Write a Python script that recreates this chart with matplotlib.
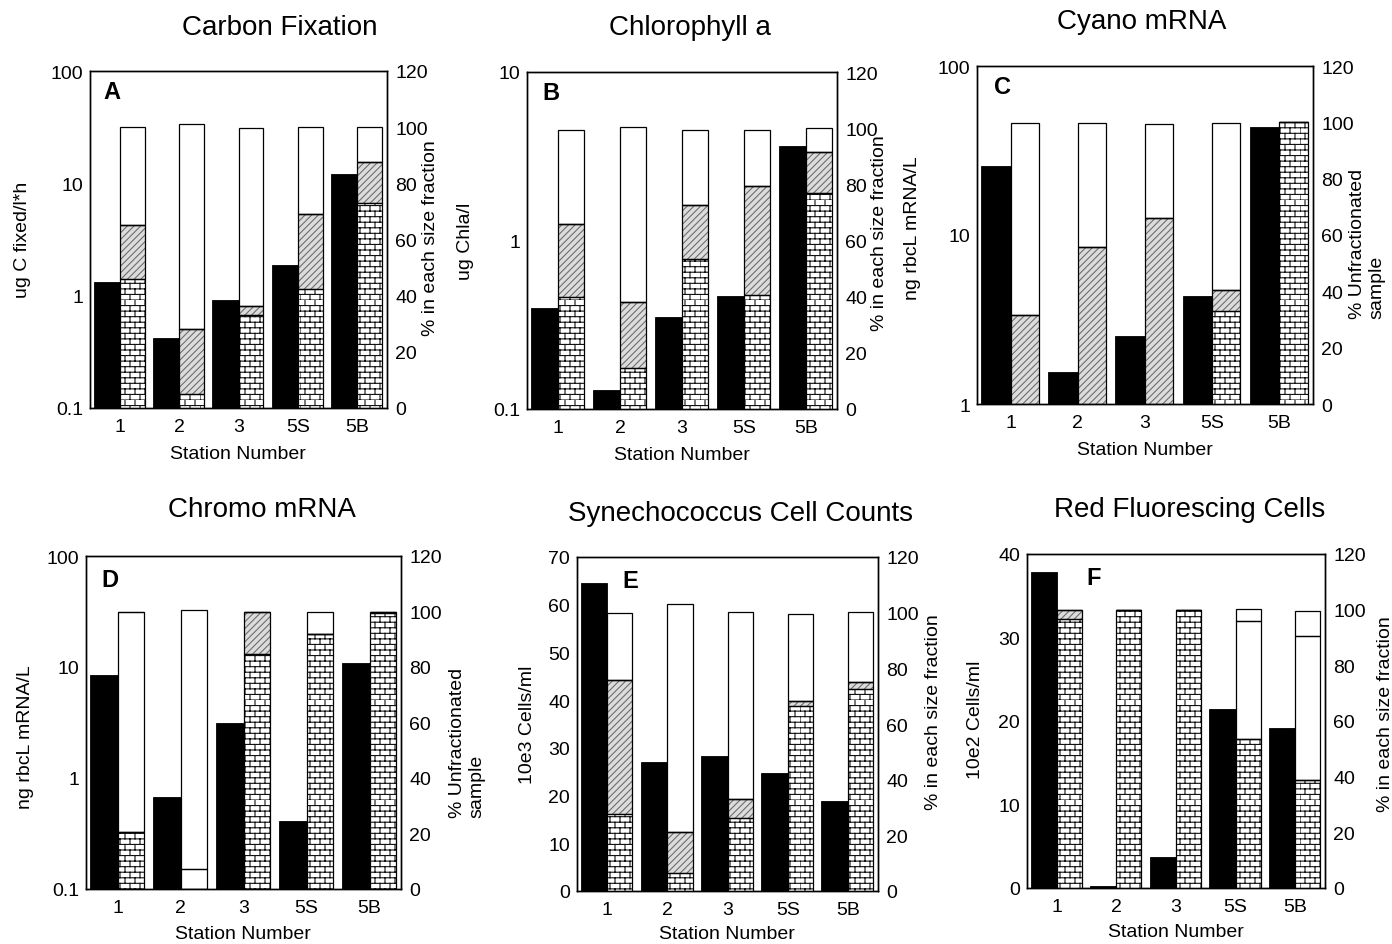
import warnings
import numpy as np
import matplotlib
matplotlib.use('Agg')
import matplotlib.pyplot as plt
import matplotlib.hatch as mhatch
from matplotlib.path import Path
from matplotlib.ticker import NullLocator

warnings.filterwarnings('ignore')

# ---------------- data ----------------
stations = ['1', '2', '3', '5S', '5B']

# A  Carbon Fixation (ug C fixed/l*h) and % in each size fraction
carbon_total = [1.31, 0.42, 0.92, 1.87, 12.2]
carbon_brick = [46, 5, 33, 42.5, 73]
carbon_hatch = [19, 23, 3.3, 26.5, 14.5]
carbon_light = [0, 0, 0, 0, 0]
carbon_white = [35, 73, 63.5, 31, 12.5]

# B  Chlorophyll a (ug Chla/l)
chl_total = [0.40, 0.13, 0.35, 0.47, 3.64]
chl_brick = [40, 14.5, 53.5, 40.5, 77]
chl_hatch = [26, 23.5, 19, 39, 14.5]
chl_light = [0, 0, 0, 0, 0]
chl_white = [33.5, 62.5, 27, 20, 8.5]

# C  Cyano mRNA (ng rbcL mRNA/L)
cyano_total = [25.7, 1.54, 2.52, 4.34, 43.7]
cyano_brick = [0, 0, 0, 33, 100]
cyano_hatch = [31.7, 55.6, 66, 7.4, 0]
cyano_light = [0, 0, 0, 0, 0]
cyano_white = [68, 44, 33.5, 59.5, 0]

# D  Chromo mRNA (ng rbcL mRNA/L)
chromo_total = [8.43, 0.67, 3.16, 0.41, 10.96]
chromo_brick = [20.4, 0, 84.6, 91.8, 99.3]
chromo_hatch = [0, 0, 15.4, 0, 0.7]
chromo_light = [79.6, 7.2, 0, 0, 0]
chromo_white = [0, 93.2, 0, 8.2, 0]

# E  Synechococcus Cell Counts (10e3 cells/ml)
syn_total = [64.6, 27.1, 28.2, 24.7, 18.9]
syn_brick = [27.8, 6.6, 26.3, 66.5, 72.7]
syn_hatch = [48, 14.7, 6.8, 1.8, 2.4]
syn_light = [0, 0, 0, 0, 0]
syn_white = [24, 81.9, 67.1, 31.2, 25.1]

# F  Red Fluorescing Cells (10e2 cells/ml)
red_total = [37.9, 0.28, 3.68, 21.4, 19.2]
red_brick = [96.8, 99.8, 99.8, 53.4, 38.8]
red_hatch = [3.0, 0, 0, 0, 0]
red_light = [0, 0, 0, 42.6, 51.8]
red_white = [0, 0, 0, 4.2, 8.8]

pct_ticks = [0, 20, 40, 60, 80, 100, 120]


# ---------------- brick hatch ----------------
class BrickHatch(mhatch.HatchPatternBase):
    def __init__(self, hatch, density):
        n = hatch.count('b')
        self.rows = 18 * n
        self.cols = 10 * n
        self.num_vertices = (self.rows * 2 + self.rows * self.cols * 2) if n else 0

    def set_vertices_and_codes(self, vertices, codes):
        i = 0
        for k in range(self.rows):
            y0 = k / self.rows
            vertices[i] = (0, y0)
            vertices[i + 1] = (1, y0)
            codes[i] = Path.MOVETO
            codes[i + 1] = Path.LINETO
            i += 2
        for k in range(self.rows):
            y0 = k / self.rows
            y1 = (k + 1) / self.rows
            off = 0.5 * (k % 2)
            for j in range(self.cols):
                xx = (j + off) / self.cols
                vertices[i] = (xx, y0)
                vertices[i + 1] = (xx, y1)
                codes[i] = Path.MOVETO
                codes[i + 1] = Path.LINETO
                i += 2


mhatch._hatch_types.append(BrickHatch)

plt.rcParams['font.family'] = ['Liberation Sans', 'DejaVu Sans']
plt.rcParams['hatch.linewidth'] = 0.8

W, H = 1392, 945
fig = plt.figure(figsize=(W / 100, H / 100), dpi=100)


def rect(l, r, t, b):
    return [l / W, 1 - b / H, (r - l) / W, (b - t) / H]


def ftext(x, y, s, **kw):
    fig.text(x / W, 1 - y / H, s, **kw)


def panel(box, total, brick, hatch, light, white, scale, ylim, yticks, yticklabels,
          letter, letter_xy):
    ax = fig.add_axes(rect(*box))
    ax2 = ax.twinx()
    x = np.arange(len(stations))
    total = np.array(total, float)
    ax.set_yscale(scale)
    ax.set_ylim(*ylim)
    ax.bar(x, total - ylim[0], bottom=ylim[0], width=-0.44, align='edge',
           color='black', edgecolor='black', linewidth=0.6, zorder=2)
    ax.set_yticks(yticks, yticklabels)
    ax.yaxis.set_minor_locator(NullLocator())
    ax.set_xticks(x, stations)
    ax.set_xlim(-0.5, len(stations) - 0.5)

    ax2.set_ylim(0, 120)
    ax2.set_yticks(pct_ticks, [str(t) for t in pct_ticks])
    bottom = np.zeros(len(stations))
    layers = [
        (brick, dict(facecolor='white', edgecolor='#111111', hatch='b')),
        (hatch, dict(facecolor='#dcdcdc', edgecolor='#6e6e6e', hatch='/////')),
        (light, dict(facecolor='white', edgecolor='white')),
        (white, dict(facecolor='white', edgecolor='white')),
    ]
    for vals, style in layers:
        vals = np.array(vals, float)
        ax2.bar(x, vals, bottom=bottom, width=0.42, align='edge', linewidth=0,
                zorder=2, **style)
        ax2.bar(x, vals, bottom=bottom, width=0.42, align='edge', fill=False,
                edgecolor='black', linewidth=0.9, zorder=3)
        bottom = bottom + vals

    for a in (ax, ax2):
        for sp in a.spines.values():
            sp.set_linewidth(1.0)
        a.tick_params(length=0, labelsize=14)
    ax.tick_params(axis='y', pad=5)
    ax.tick_params(axis='x', pad=7)
    ax2.tick_params(axis='y', pad=6)
    ax.text(letter_xy[0], letter_xy[1], letter, transform=ax.transAxes,
            fontsize=17, fontweight='bold', ha='left', va='center')
    return ax


log_lab = {0.1: '0.1', 1: '1', 10: '10', 100: '100'}

# A
panel((90, 387, 72, 409), carbon_total, carbon_brick, carbon_hatch, carbon_light,
      carbon_white, 'log', (0.1, 100), [0.1, 1, 10, 100],
      [log_lab[v] for v in [0.1, 1, 10, 100]], 'A', (0.045, 0.94))
# B
panel((527, 837, 73, 410), chl_total, chl_brick, chl_hatch, chl_light, chl_white,
      'log', (0.1, 10), [0.1, 1, 10], [log_lab[v] for v in [0.1, 1, 10]],
      'B', (0.05, 0.94))
# C
panel((977, 1313, 67, 405), cyano_total, cyano_brick, cyano_hatch, cyano_light,
      cyano_white, 'log', (1, 100), [1, 10, 100], [log_lab[v] for v in [1, 10, 100]],
      'C', (0.05, 0.94))
# D
panel((86, 401, 557, 890), chromo_total, chromo_brick, chromo_hatch, chromo_light,
      chromo_white, 'log', (0.1, 100), [0.1, 1, 10, 100],
      [log_lab[v] for v in [0.1, 1, 10, 100]], 'D', (0.05, 0.93))
# E
panel((577, 878, 558, 892), syn_total, syn_brick, syn_hatch, syn_light, syn_white,
      'linear', (0, 70), list(range(0, 71, 10)), [str(v) for v in range(0, 71, 10)],
      'E', (0.15, 0.93))
# F
panel((1027, 1325, 555, 889), red_total, red_brick, red_hatch, red_light, red_white,
      'linear', (0, 40), list(range(0, 41, 10)), [str(v) for v in range(0, 41, 10)],
      'F', (0.2, 0.93))

# titles
tkw = dict(fontsize=20, ha='center', va='center')
ftext(280, 28, 'Carbon Fixation', **tkw)
ftext(690, 28, 'Chlorophyll a', **tkw)
ftext(1142, 22, 'Cyano mRNA', **tkw)
ftext(262, 510, 'Chromo mRNA', **tkw)
ftext(740, 514, 'Synechococcus Cell Counts', **tkw)
ftext(1190, 510, 'Red Fluorescing Cells', **tkw)

# x labels
xkw = dict(fontsize=14, ha='center', va='center')
ftext(238, 455, 'Station Number', **xkw)
ftext(682, 456, 'Station Number', **xkw)
ftext(1145, 451, 'Station Number', **xkw)
ftext(243, 935, 'Station Number', **xkw)
ftext(727, 935, 'Station Number', **xkw)
ftext(1176, 933, 'Station Number', **xkw)

# y labels
ykw = dict(fontsize=14, ha='center', va='center', rotation=90)
ftext(431, 238, '% in each size fraction', **ykw)
ftext(23, 240, 'ug C fixed/l*h', **ykw)
ftext(466, 241, 'ug Chla/l', **ykw)
ftext(880, 233, '% in each size fraction', **ykw)
ftext(913, 228, 'ng rbcL mRNA/L', **ykw)
ftext(1367, 244, '% Unfractionated\nsample', multialignment='left', **ykw)
ftext(25, 737, 'ng rbcL mRNA/L', **ykw)
ftext(467, 743, '% Unfractionated\nsample', multialignment='left', **ykw)
ftext(527, 725, '10e3 Cells/ml', **ykw)
ftext(933, 712, '% in each size fraction', **ykw)
ftext(975, 720, '10e2 Cells/ml', **ykw)
ftext(1385, 714, '% in each size fraction', **ykw)

fig.savefig('out.png', dpi=100)
